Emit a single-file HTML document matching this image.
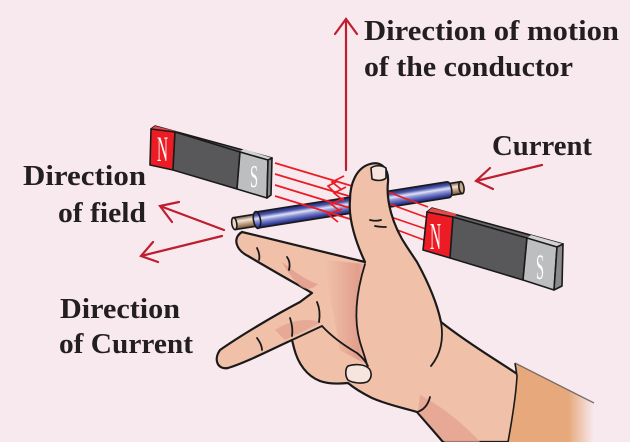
<!DOCTYPE html>
<html><head><meta charset="utf-8"><style>
html,body{margin:0;padding:0;background:#f8e9ef;}
svg{display:block;}
text{font-family:"Liberation Serif",serif;}
.lbl{font-weight:bold;fill:#231f20;font-size:28px;}
</style></head><body>
<svg width="630" height="442" viewBox="0 0 630 442" xmlns="http://www.w3.org/2000/svg">
<defs>
<linearGradient id="blue" x1="0" y1="0" x2="0" y2="1">
<stop offset="0" stop-color="#1c2470"/><stop offset="0.22" stop-color="#4b55aa"/>
<stop offset="0.42" stop-color="#dfe2f7"/><stop offset="0.58" stop-color="#9097d6"/>
<stop offset="0.85" stop-color="#3a449e"/><stop offset="1" stop-color="#1c2470"/>
</linearGradient>
<linearGradient id="tan" x1="0" y1="0" x2="0" y2="1">
<stop offset="0" stop-color="#6e5038"/><stop offset="0.35" stop-color="#f2e6da"/>
<stop offset="0.6" stop-color="#c9a98a"/><stop offset="1" stop-color="#6e5038"/>
</linearGradient>
<linearGradient id="sleeve" x1="0" y1="0" x2="1" y2="0">
<stop offset="0" stop-color="#e7a97b"/><stop offset="0.7" stop-color="#e7a97b"/>
<stop offset="1" stop-color="#f8e9ef"/>
</linearGradient>
<linearGradient id="shadeV" x1="0" y1="0" x2="1" y2="0">
<stop offset="0" stop-color="#e3a08e" stop-opacity="0"/><stop offset="0.8" stop-color="#e09a88" stop-opacity="0.9"/>
<stop offset="1" stop-color="#e3a08e" stop-opacity="0"/>
</linearGradient>
</defs>

<!-- Left magnet -->
<g stroke="#1a1a1a" stroke-width="1.6" stroke-linejoin="round">
<polygon points="151,129 155,126 272,158 268,160" fill="#666"/>
<polygon points="151,129 155,126 179,132 175,132" fill="#e84848" stroke="none"/>
<polygon points="240,151 244,149 272,158 268,160" fill="#d2d2d2" stroke="none"/>
<polygon points="151,129 175,132 173,170 150,165" fill="#ed1c24"/>
<polygon points="175,132 240,152 237,189 173,170" fill="#58585a"/>
<polygon points="240,152 268,160 267,198 237,189" fill="#bcbec0"/>
<polygon points="268,160 272,158 271,195 267,198" fill="#8a8a8a"/>
</g>
<text x="157" y="161" font-size="36" fill="#fff" textLength="11" lengthAdjust="spacingAndGlyphs">N</text>
<text x="250" y="187" font-size="32" fill="#fff" textLength="8" lengthAdjust="spacingAndGlyphs">S</text>

<!-- Top arrow -->
<g stroke="#be1e2d" stroke-width="2.2" fill="none" stroke-linecap="round">
<line x1="346" y1="170" x2="346" y2="19"/>
<polyline points="335,34 346,19 357,34"/>
<!-- current arrow -->
<line x1="542" y1="165" x2="476" y2="181"/>
<polyline points="490,168 476,181 493,189"/>
<!-- field arrows -->
<line x1="224" y1="230" x2="160" y2="206"/>
<polyline points="179,202 160,206 172,222"/>
<line x1="222" y1="236" x2="141" y2="256"/>
<polyline points="153,242 141,256 158,262"/>
</g>

<!-- Rod -->
<g transform="translate(257,220) rotate(-9)" stroke="#1a1a1a" stroke-width="1.6">
<rect x="-23" y="-6" width="24" height="12" fill="url(#tan)"/>
<ellipse cx="-23" cy="0" rx="2.5" ry="6" fill="#e8d8c6"/>
<rect x="193" y="-6" width="14" height="12" fill="url(#tan)"/>
<ellipse cx="207" cy="0" rx="2.5" ry="6" fill="#c9a98a"/>
<path d="M0,-8 L193,-8 Q197,-8 197,0 Q197,8 193,8 L0,8 Z" fill="url(#blue)"/>
<ellipse cx="0" cy="0" rx="3.5" ry="8.5" fill="url(#blue)"/>
</g>

<!-- Field lines -->
<g stroke="#ec1c24" stroke-width="1.7" fill="none">
<line x1="275" y1="163" x2="352" y2="186"/>
<line x1="275" y1="174" x2="352" y2="197"/>
<line x1="275" y1="185" x2="350" y2="208"/>
<line x1="275" y1="196" x2="350" y2="219"/>
<polyline points="344,176 332,182 342,190"/>
<polyline points="346,187 334,193 344,201"/>
<polyline points="344,198 331,204 341,212"/>
<polyline points="342,209 328,214 338,222"/>
<polyline points="338,181 328,186 336,194"/>
<line x1="380" y1="189" x2="428" y2="207"/>
<line x1="384" y1="202" x2="428" y2="218"/>
<line x1="388" y1="216" x2="426" y2="229"/>
<line x1="392" y1="228" x2="424" y2="240"/>
</g>

<!-- Hand -->
<path d="M242,232 L365,262 C357,245 348,220 350,200 C350,184 356,168 370,164 C381,161 389,168 388,182 C386,200 392,225 407,247 L417,262 C428,282 437,303 441,322 C470,345 500,362 520,376 L530,442 L443,442 L417,412 C404,408 388,405 372,398 C362,393 354,388 348,383 C338,384 328,384 320,381 C307,376 298,364 294,348 L292,340 C270,350 245,363 228,368 C218,370 213,360 220,350 C240,336 275,315 300,302 L312,293 C300,286 275,272 248,256 C236,250 232,238 242,232 Z" fill="#f0c0a9" stroke="#1a1a1a" stroke-width="2.2" stroke-linejoin="round"/>
<!-- shading -->
<path d="M325,260 L365,264 C357,290 353,318 360,342 C363,352 366,360 367,365 L340,350 C335,320 328,290 325,260 Z" fill="url(#shadeV)"/>
<path d="M282,262 C295,272 305,280 318,284 C312,290 305,290 300,286 C292,278 286,270 282,262 Z" fill="#e0998a" opacity="0.7"/>
<path d="M275,330 C290,320 305,318 322,322 C310,328 298,334 285,340 Z" fill="#e0998a" opacity="0.6"/>
<path d="M420,395 C440,405 465,425 480,442 L445,442 L418,412 Z" fill="#e3a08e" opacity="0.7"/>
<!-- interior lines -->
<g stroke="#1a1a1a" stroke-width="1.8" fill="none" stroke-linecap="round">
<path d="M365,264 C357,290 353,318 360,342 C363,352 366,360 367,365"/>
<path d="M292,340 L322,326 C333,338 345,346 357,353 C362,357 366,362 368,366"/>
<path d="M441,322 C444,340 440,355 431,366"/>
<path d="M430,397 C428,405 424,410 417,412"/>
<path d="M257,248 C259,252 260,256 259,260"/>
<path d="M287,257 C290,261 290,266 289,270"/>
<path d="M317,302 C320,309 320,316 319,322"/>
<path d="M257,338 C260,342 262,346 262,350"/>
<path d="M290,318 C292,324 293,330 292,336"/>
<path d="M370,220 C374,221 378,221 381,220"/>
<path d="M375,226 C379,227 383,227 386,227"/>
</g>
<!-- nails -->
<path d="M371,168 C375,165 382,165 386,168 L386,178 C383,181 376,181 372,179 Z" fill="#f6e4de" stroke="#1a1a1a" stroke-width="1.6"/>
<path d="M348,366 C354,364 362,364 367,367 C372,370 373,378 367,382 C361,384 353,383 348,380 C345,376 345,369 348,366 Z" fill="#f6e4de" stroke="#1a1a1a" stroke-width="1.6"/>

<!-- Sleeve -->
<path d="M515,363 L594,403 L594,442 L508,442 C512,420 516,395 517,376 Z" fill="url(#sleeve)"/>
<path d="M508,442 C512,420 516,395 517,376 L515,363" stroke="#1a1a1a" stroke-width="1.6" fill="none"/>
<path d="M515,363 L594,403" stroke="#555" stroke-width="1.3" fill="none" opacity="0.8"/>

<!-- Right magnet -->
<g stroke="#1a1a1a" stroke-width="1.6" stroke-linejoin="round">
<polygon points="427,212 432,208 563,244 557,247" fill="#666"/>
<polygon points="427,212 432,208 457,214 453,217" fill="#e84848" stroke="none"/>
<polygon points="527,238 531,235 563,244 557,247" fill="#d2d2d2" stroke="none"/>
<polygon points="427,212 453,217 450,258 423,250" fill="#ed1c24"/>
<polygon points="453,217 527,238 523,280 450,258" fill="#58585a"/>
<polygon points="527,238 557,247 554,290 523,280" fill="#bcbec0"/>
<polygon points="557,247 563,244 562,286 554,290" fill="#8a8a8a"/>
</g>
<text x="430" y="249" font-size="38" fill="#fff" textLength="11" lengthAdjust="spacingAndGlyphs">N</text>
<text x="536" y="279" font-size="36" fill="#fff" textLength="8" lengthAdjust="spacingAndGlyphs">S</text>

<!-- Labels -->
<text class="lbl" x="364" y="40" textLength="255" lengthAdjust="spacingAndGlyphs">Direction of motion</text>
<text class="lbl" x="364" y="76" textLength="209" lengthAdjust="spacingAndGlyphs">of the conductor</text>
<text class="lbl" x="492" y="155" textLength="100" lengthAdjust="spacingAndGlyphs">Current</text>
<text class="lbl" x="23" y="185" textLength="123" lengthAdjust="spacingAndGlyphs">Direction</text>
<text class="lbl" x="58" y="222" textLength="88" lengthAdjust="spacingAndGlyphs">of field</text>
<text class="lbl" x="60" y="318" textLength="120" lengthAdjust="spacingAndGlyphs">Direction</text>
<text class="lbl" x="59" y="353" textLength="134" lengthAdjust="spacingAndGlyphs">of Current</text>
</svg>
</body></html>
